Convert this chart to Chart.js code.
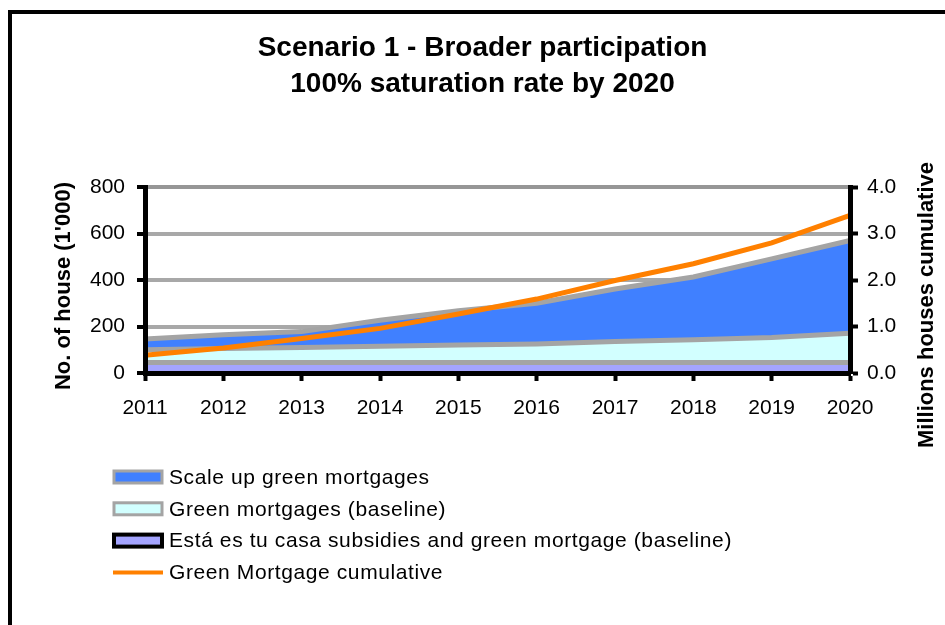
<!DOCTYPE html>
<html>
<head>
<meta charset="utf-8">
<script src="https://cdn.jsdelivr.net/npm/chart.js@4.4.1/dist/chart.umd.min.js"></script>
<style>
  html, body { margin: 0; padding: 0; background: #fff; }
</style>
</head>
<body>
<canvas id="chart" width="945" height="625"></canvas>
<script>
// values (thousands of houses / millions cumulative)
const years = ['2011', '2012', '2013', '2014', '2015', '2016', '2017', '2018', '2019', '2020']
const estaEsTuCasa = [45, 45, 45, 45, 45, 45, 45, 45, 45, 45]
const greenBaseline = [55, 60, 65, 70, 75, 80, 90, 98, 108, 126]
const scaleUp = [46, 60, 68, 112, 148, 175, 226, 270, 338, 399]
const cumulative = [0.38, 0.54, 0.74, 0.96, 1.27, 1.59, 1.99, 2.35, 2.80, 3.39]

const titleLines = ['Scenario 1 - Broader participation', '100% saturation rate by 2020']
const leftTitle = "No. of house (1'000)"
const rightTitle = 'Millions houses cumulative'

const gridGrey = '#a8a8a8'
const edgeGrey = '#a4a4a4'

Chart.defaults.font.family = '"Liberation Sans", Arial, sans-serif'
Chart.defaults.color = '#000'

// frame, rotated axis titles and the legend block under the plot
const decorations = {
    id: 'decorations',
    beforeDraw(chart) {
        const ctx = chart.ctx
        ctx.save()
        ctx.strokeStyle = '#000'
        ctx.lineWidth = 4
        ctx.strokeRect(10, 12, 1000, 1000)
        ctx.restore()
    },
    afterDraw(chart) {
        const ctx = chart.ctx
        ctx.save()
        ctx.fillStyle = '#000'
        ctx.font = 'bold 22px "Liberation Sans", Arial, sans-serif'
        ctx.textAlign = 'center'
        ctx.textBaseline = 'middle'

        ctx.save()
        ctx.translate(64, 286)
        ctx.rotate(-Math.PI / 2)
        ctx.fillText(leftTitle, 0, 0)
        ctx.restore()

        ctx.save()
        ctx.translate(927, 305)
        ctx.rotate(-Math.PI / 2)
        ctx.fillText(rightTitle, 0, 0)
        ctx.restore()

        // legend: same order as the reference
        const order = [3, 2, 1, 0]
        ctx.font = '21px "Liberation Sans", Arial, sans-serif'
        ctx.letterSpacing = '0.6px'
        ctx.textAlign = 'left'
        order.forEach((idx, row) => {
            const ds = chart.data.datasets[idx]
            const cy = 477 + row * 31.8
            if (ds.fill === false) {
                ctx.strokeStyle = ds.borderColor
                ctx.lineWidth = 4
                ctx.beginPath()
                ctx.moveTo(113, cy)
                ctx.lineTo(163, cy)
                ctx.stroke()
            } else {
                ctx.fillStyle = ds.backgroundColor
                ctx.fillRect(114, cy - 6, 48, 12)
                ctx.strokeStyle = idx === 1 ? '#000' : edgeGrey
                ctx.lineWidth = idx === 1 ? 4 : 3
                ctx.strokeRect(114, cy - 6, 48, 12)
            }
            ctx.fillStyle = '#000'
            ctx.fillText(ds.label, 169, cy + 1)
        })
        ctx.restore()
    }
}

const ctx = document.getElementById('chart').getContext('2d')
const chart = new Chart(ctx, {
    type: 'line',
    data: {
        labels: years,
        datasets: [
            {
                label: 'Green Mortgage cumulative',
                data: cumulative,
                yAxisID: 'y1',
                borderColor: '#ff8000',
                borderWidth: 5,
                fill: false
            },
            {
                label: 'Está es tu casa subsidies and green mortgage (baseline)',
                data: estaEsTuCasa,
                yAxisID: 'y',
                backgroundColor: '#a4a4ff',
                borderColor: edgeGrey,
                borderWidth: 5,
                fill: 'origin'
            },
            {
                label: 'Green mortgages (baseline)',
                data: greenBaseline,
                yAxisID: 'y',
                backgroundColor: '#d2ffff',
                borderColor: edgeGrey,
                borderWidth: 5,
                fill: '-1'
            },
            {
                label: 'Scale up green mortgages',
                data: scaleUp,
                yAxisID: 'y',
                backgroundColor: '#4080ff',
                borderColor: edgeGrey,
                borderWidth: 5,
                fill: '-1'
            }
        ]
    },
    options: {
        responsive: false,
        animation: false,
        devicePixelRatio: 1,
        elements: {
            point: { radius: 0, hoverRadius: 0 },
            line: { tension: 0 }
        },
        layout: {
            padding: { left: 20, right: 0, top: 0, bottom: 202 }
        },
        plugins: {
            legend: { display: false },
            tooltip: { enabled: false },
            title: {
                display: true,
                text: titleLines,
                color: '#000',
                font: { size: 28, weight: 'bold', lineHeight: 36 / 28 },
                padding: { top: 30, bottom: 85 }
            }
        },
        scales: {
            x: {
                grid: { drawOnChartArea: false, drawTicks: true, tickLength: 8, tickColor: '#000', tickWidth: 4 },
                border: { display: true, color: '#000', width: 5, z: 1 },
                ticks: { color: '#000', font: { size: 21 }, padding: 15, maxRotation: 0, autoSkip: false },
                afterFit: s => { s.height = 50 }
            },
            y: {
                position: 'left',
                stacked: true,
                min: 0,
                max: 800,
                ticks: { stepSize: 200, color: '#000', font: { size: 21 }, padding: 12 },
                grid: {
                    color: c => c.tick.value === 0 ? 'rgba(0,0,0,0)' : (c.tick.value === 800 ? '#969696' : gridGrey),
                    lineWidth: 4,
                    tickLength: 8,
                    tickColor: '#000',
                    tickWidth: 4
                },
                border: { color: '#000', width: 5, z: 1 },
                afterFit: s => { s.width = 125 }
            },
            y1: {
                position: 'right',
                min: 0,
                max: 4,
                ticks: { stepSize: 1, color: '#000', font: { size: 21 }, padding: 9, callback: v => v.toFixed(1) },
                grid: { drawOnChartArea: false, tickLength: 8, tickColor: '#000', tickWidth: 4 },
                border: { color: '#000', width: 5, z: 1 },
                afterFit: s => { s.width = 95 }
            }
        }
    },
    plugins: [decorations]
})
</script>
</body>
</html>
